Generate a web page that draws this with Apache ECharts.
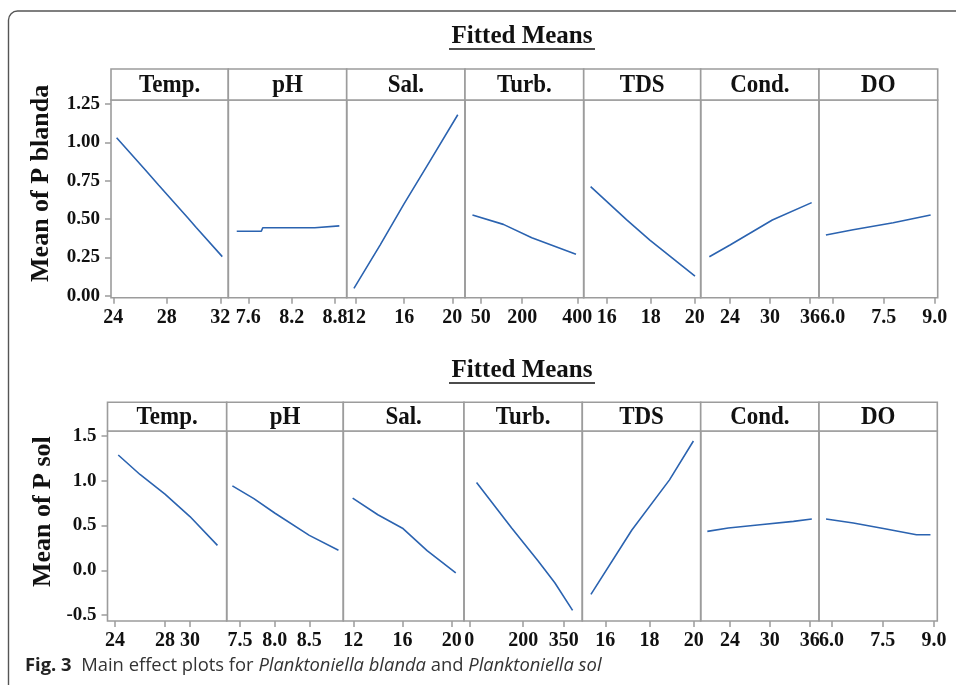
<!DOCTYPE html>
<html><head><meta charset="utf-8">
<script src="https://cdn.jsdelivr.net/npm/echarts@6/dist/echarts.min.js"></script>
<style>html,body{margin:0;padding:0;background:#fff}#c{width:956px;height:685px}</style>
</head><body><div id="c"></div>
<script>
// ---------- DATA ----------
const factors = ['Temp.', 'pH', 'Sal.', 'Turb.', 'TDS', 'Cond.', 'DO'];

// Planktoniella blanda (top)
const blandaTempX = [24.25, 26.5, 27.4, 29.6, 30.2, 32.15];
const blandaTempY = [1.03, 0.81, 0.72, 0.505, 0.445, 0.255];
const blandaPhX = [7.44, 7.78, 7.80, 8.52, 8.54, 8.86];
const blandaPhY = [0.42, 0.42, 0.443, 0.443, 0.455, 0.455];
const blandaSalX = [11.83, 14, 16, 18, 20.45];
const blandaSalY = [0.048, 0.33, 0.60, 0.86, 1.18];
const blandaTurbX = [20, 132, 235, 395];
const blandaTurbY = [0.526, 0.465, 0.378, 0.27];
const blandaTdsX = [15.27, 16.91, 17.96, 20.01];
const blandaTdsY = [0.711, 0.494, 0.363, 0.128];
const blandaCondX = [20.9, 24, 30.35, 36.25];
const blandaCondY = [0.254, 0.331, 0.494, 0.607];
const blandaDoX = [5.8, 6.6, 7.78, 8.88];
const blandaDoY = [0.396, 0.43, 0.476, 0.526];

// Planktoniella sol (bottom)
const solTempX = [24.26, 26, 28, 30, 32.2];
const solTempY = [1.288, 1.07, 0.85, 0.60, 0.278];
const solPhX = [7.39, 7.7, 8.0, 8.5, 8.92];
const solPhY = [0.943, 0.80, 0.64, 0.39, 0.223];
const solSalX = [11.95, 14, 16, 18, 20.33];
const solSalY = [0.806, 0.62, 0.47, 0.22, -0.03];
const solTurbX = [27, 157, 256, 317, 383];
const solTurbY = [0.98, 0.472, 0.10, -0.14, -0.449];
const solTdsX = [15.35, 17.2, 18.9, 19.98];
const solTdsY = [-0.27, 0.45, 1.01, 1.444];
const solCondX = [20.58, 23.74, 28.52, 33.55, 36.32];
const solCondY = [0.434, 0.472, 0.509, 0.546, 0.572];
const solDoX = [5.84, 6.64, 7.56, 8.49, 8.9];
const solDoY = [0.572, 0.528, 0.464, 0.397, 0.397];

// tick labels
const blandaXTicks = [['24','28','32'], ['7.6','8.2','8.8'], ['12','16','20'], ['50','200','400'], ['16','18','20'], ['24','30','36'], ['6.0','7.5','9.0']];
const solXTicks = [['24','28','30'], ['7.5','8.0','8.5'], ['12','16','20'], ['0','200','350'], ['16','18','20'], ['24','30','36'], ['6.0','7.5','9.0']];
const blandaYTicks = ['0.00', '0.25', '0.50', '0.75', '1.00', '1.25'];
const solYTicks = ['-0.5', '0.0', '0.5', '1.0', '1.5'];

const blandaYTitle = 'Mean of P blanda';
const solYTitle = 'Mean of P sol';
const panelTitle = 'Fitted Means';

// ---------- LAYOUT ----------
const rows = [
  {
    edges: [111, 228.3, 346.7, 465, 583.7, 700.7, 819, 937.7],
    headTop: 69, plotTop: 100, plotBottom: 297.7,
    xr: [[23.83,32.6],[7.323,8.962],[11.23,21.05],[-7,423],[14.955,20.27],[19.6,37.35],[5.597,9.088]],
    yr: [-0.013, 1.276],
    xs: [blandaTempX, blandaPhX, blandaSalX, blandaTurbX, blandaTdsX, blandaCondX, blandaDoX],
    ys: [blandaTempY, blandaPhY, blandaSalY, blandaTurbY, blandaTdsY, blandaCondY, blandaDoY],
    xt: blandaXTicks, yt: blandaYTicks, yTitle: blandaYTitle,
    titleY: 37, yTitleX: 41
  },
  {
    edges: [107.5, 226.7, 343.3, 464, 582.3, 700.7, 819, 937.3],
    headTop: 402.3, plotTop: 431, plotBottom: 621,
    xr: [[23.4,32.94],[7.308,8.99],[11.19,21.0],[-19.6,419],[14.96,20.31],[19.58,37.4],[5.634,9.1]],
    yr: [-0.567, 1.556],
    xs: [solTempX, solPhX, solSalX, solTurbX, solTdsX, solCondX, solDoX],
    ys: [solTempY, solPhY, solSalY, solTurbY, solTdsY, solCondY, solDoY],
    xt: solXTicks, yt: solYTicks, yTitle: solYTitle,
    titleY: 371, yTitleX: 43
  }
];

const SERIF = '"Liberation Serif", "Times New Roman", serif';
const SANS = '"Open Sans", "Noto Sans", sans-serif';
const BORDER = '#9c9c9c';
const LINE = '#2b63b0';

const grid = [], xAxis = [], yAxis = [], series = [], graphic = [];
let idx = 0;
rows.forEach((r, ri) => {
  for (let p = 0; p < 7; p++) {
    const l = r.edges[p], w = r.edges[p + 1] - r.edges[p];
    grid.push({
      left: l, top: r.plotTop, width: w, height: r.plotBottom - r.plotTop,
      show: true, borderColor: BORDER, borderWidth: 1.6, backgroundColor: 'transparent',
      containLabel: false
    });
    const ticks = r.xt[p];
    const tickVals = ticks.map(Number);
    xAxis.push({
      type: 'value', gridIndex: idx, min: r.xr[p][0], max: r.xr[p][1], position: 'bottom',
      axisLine: { show: false, onZero: false },
      splitLine: { show: false },
      axisTick: { show: true, inside: false, length: 6, customValues: tickVals, lineStyle: { color: BORDER, width: 1.5 } },
      axisLabel: {
        show: true, customValues: tickVals, margin: 10,
        fontFamily: SERIF, fontWeight: 'bold', fontSize: 20, color: '#111',
        formatter: v => { const k = tickVals.findIndex(t => Math.abs(t - v) < 1e-9); return k >= 0 ? ticks[k] : ''; }
      }
    });
    const yVals = r.yt.map(Number);
    yAxis.push({
      type: 'value', gridIndex: idx, min: r.yr[0], max: r.yr[1], show: p === 0, position: 'left',
      axisLine: { show: false, onZero: false },
      splitLine: { show: false },
      axisTick: { show: true, inside: false, length: 6, customValues: yVals, lineStyle: { color: BORDER, width: 1.5 } },
      axisLabel: {
        show: true, customValues: yVals, margin: 11,
        fontFamily: SERIF, fontWeight: 'bold', fontSize: 19, color: '#111',
        formatter: v => { const k = yVals.findIndex(t => Math.abs(t - v) < 1e-9); return k >= 0 ? r.yt[k] : ''; }
      }
    });
    series.push({
      type: 'line', xAxisIndex: idx, yAxisIndex: idx,
      data: r.xs[p].map((x, i) => [x, r.ys[p][i]]),
      showSymbol: false, silent: true,
      lineStyle: { color: LINE, width: 1.6 }
    });
    // header box
    graphic.push({
      type: 'rect', silent: true,
      shape: { x: l, y: r.headTop, width: w, height: r.plotTop - r.headTop },
      style: { fill: '#fff', stroke: BORDER, lineWidth: 1.6 }
    });
    graphic.push({
      type: 'text', silent: true,
      x: l + w / 2, y: (r.headTop + r.plotTop) / 2 + 1, scaleY: 1.12,
      style: {
        text: factors[p], fontFamily: SERIF, fontWeight: 'bold', fontSize: 23,
        fill: '#111', textAlign: 'center', textVerticalAlign: 'middle'
      }
    });
    idx++;
  }
  // Fitted Means title with underline
  const cx = 522;
  graphic.push({
    type: 'text', silent: true, x: cx, y: r.titleY,
    style: {
      text: panelTitle, fontFamily: SERIF, fontWeight: 'bold', fontSize: 25,
      fill: '#111', textAlign: 'center', textVerticalAlign: 'middle'
    }
  });
  graphic.push({
    type: 'line', silent: true,
    shape: { x1: cx - 73, y1: r.titleY + 12, x2: cx + 73, y2: r.titleY + 12 },
    style: { stroke: '#111', lineWidth: 1.5 }
  });
  // y-axis title
  graphic.push({
    type: 'text', silent: true, x: r.yTitleX, y: (r.headTop + r.plotBottom) / 2,
    rotation: Math.PI / 2,
    style: {
      text: r.yTitle, fontFamily: SERIF, fontWeight: 'bold', fontSize: 26,
      fill: '#111', textAlign: 'center', textVerticalAlign: 'middle'
    }
  });
});

// outer frame
graphic.push({
  type: 'rect', silent: true, z: -1,
  shape: { x: 8.5, y: 11, width: 980, height: 700, r: 9 },
  style: { fill: 'none', stroke: '#555', lineWidth: 1.4 }
});
// caption
graphic.push({
  type: 'text', silent: true, x: 25, y: 666,
  style: {
    text: '{b|Fig. 3}{n|  Main effect plots for }{i|Planktoniella blanda}{n| and }{i|Planktoniella sol}',
    textVerticalAlign: 'middle',
    rich: {
      b: { fontFamily: SANS, fontWeight: 'bold', fontSize: 18.4, fill: '#222' },
      n: { fontFamily: SANS, fontSize: 18.4, fill: '#333' },
      i: { fontFamily: SANS, fontStyle: 'italic', fontSize: 18.4, fill: '#333' }
    }
  }
});

const chart = echarts.init(document.getElementById('c'), null, { renderer: 'canvas' });
chart.setOption({
  animation: false,
  backgroundColor: '#fff',
  grid, xAxis, yAxis, series, graphic
});
</script>
</body></html>
